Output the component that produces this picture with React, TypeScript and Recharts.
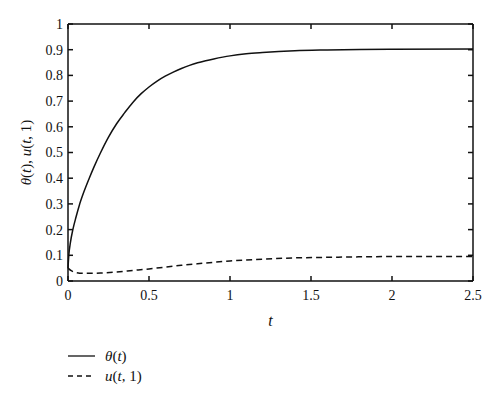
import { Label, Legend, Line, LineChart, XAxis, YAxis } from "recharts";

// t values and readings for theta(t)
const thetaT = [0, 0.005, 0.015, 0.03, 0.05, 0.07, 0.1, 0.13, 0.16, 0.2, 0.25, 0.3, 0.35, 0.4, 0.45, 0.5, 0.55, 0.6, 0.65, 0.7, 0.75, 0.8, 0.85, 0.9, 1.0, 1.1, 1.2, 1.4, 1.6, 1.8, 2.0, 2.5];
const thetaV = [0.05, 0.1, 0.15, 0.2, 0.25, 0.295, 0.35, 0.398, 0.443, 0.498, 0.56, 0.612, 0.655, 0.695, 0.728, 0.755, 0.778, 0.797, 0.813, 0.827, 0.839, 0.849, 0.857, 0.864, 0.876, 0.884, 0.889, 0.896, 0.899, 0.901, 0.902, 0.903];

// t values and readings for u(t, 1)
const uT = [0, 0.02, 0.05, 0.1, 0.2, 0.3, 0.4, 0.5, 0.6, 0.7, 0.8, 0.9, 1.0, 1.2, 1.4, 1.6, 1.8, 2.0, 2.5];
const uV = [0.05, 0.04, 0.033, 0.03, 0.031, 0.035, 0.041, 0.047, 0.054, 0.061, 0.067, 0.073, 0.078, 0.085, 0.09, 0.092, 0.094, 0.095, 0.095];

const xTicks = [0, 0.5, 1, 1.5, 2, 2.5];
const yTicks = [0, 0.1, 0.2, 0.3, 0.4, 0.5, 0.6, 0.7, 0.8, 0.9, 1];

const thetaData = thetaT.map((t, i) => ({ t, theta: thetaV[i] }));
const uData = uT.map((t, i) => ({ t, u: uV[i] }));

const FONT = "Liberation Serif, serif";
const INK = "#111";
const tickStyle = { fontFamily: FONT, fontSize: 14, fill: INK };
const it = { fontStyle: "italic" as const };

const LegendBox = () => (
  <svg width={160} height={50}>
    <line x1={8} x2={35} y1={11} y2={11} stroke={INK} strokeWidth={1.3} />
    <text x={45} y={16} fontFamily={FONT} fontSize={15} fill={INK}>
      <tspan {...it}>θ</tspan>(<tspan {...it}>t</tspan>)
    </text>
    <line x1={8} x2={35} y1={31} y2={31} stroke={INK} strokeWidth={1.3} strokeDasharray="5 4" />
    <text x={45} y={36} fontFamily={FONT} fontSize={15} fill={INK}>
      <tspan {...it}>u</tspan>(<tspan {...it}>t</tspan>, 1)
    </text>
  </svg>
);

export default function App() {
  return (
    <div style={{ position: "absolute", left: 0, top: 0, background: "#fff" }}>
      <LineChart width={500} height={401} margin={{ top: 23, right: 26, bottom: 0, left: 0 }}>
        <XAxis
          xAxisId="bottom"
          dataKey="t"
          type="number"
          domain={[0, 2.5]}
          ticks={xTicks}
          height={120}
          tickSize={-5}
          tickMargin={14}
          tick={tickStyle}
          stroke={INK}
          strokeWidth={1.5}
        >
          <Label
            position="insideTop"
            content={({ viewBox }: any) => (
              <text
                x={viewBox.x + viewBox.width / 2}
                y={viewBox.y + 45}
                textAnchor="middle"
                fontFamily={FONT}
                fontSize={16}
                fontStyle="italic"
                fill={INK}
              >
                t
              </text>
            )}
          />
        </XAxis>
        <XAxis
          xAxisId="top"
          orientation="top"
          dataKey="t"
          type="number"
          domain={[0, 2.5]}
          ticks={xTicks}
          height={1}
          tickSize={-5}
          tickFormatter={() => ""}
          stroke={INK}
          strokeWidth={1.5}
        />
        <YAxis
          yAxisId="left"
          type="number"
          domain={[0, 1]}
          ticks={yTicks}
          width={68}
          tickSize={-5}
          tickMargin={10}
          tick={tickStyle}
          stroke={INK}
          strokeWidth={1.5}
        >
          <Label
            position="center"
            content={({ viewBox }: any) => {
              const cx = viewBox.x + viewBox.width / 2 - 6;
              const cy = viewBox.y + viewBox.height / 2;
              return (
                <text
                  x={cx}
                  y={cy}
                  transform={`rotate(-90 ${cx} ${cy})`}
                  textAnchor="middle"
                  dominantBaseline="middle"
                  fontFamily={FONT}
                  fontSize={15}
                  fill={INK}
                >
                  <tspan {...it}>θ</tspan>(<tspan {...it}>t</tspan>), <tspan {...it}>u</tspan>(
                  <tspan {...it}>t</tspan>, 1)
                </text>
              );
            }}
          />
        </YAxis>
        <YAxis
          yAxisId="right"
          orientation="right"
          type="number"
          domain={[0, 1]}
          ticks={yTicks}
          width={1}
          tickSize={-5}
          tickFormatter={() => ""}
          stroke={INK}
          strokeWidth={1.5}
        />
        <Legend
          layout="vertical"
          align="center"
          verticalAlign="middle"
          wrapperStyle={{ left: 60, top: 345, width: 160, height: 50 }}
          content={() => <LegendBox />}
        />
        {/* unstroked copy so the top/right frame axes get drawn */}
        <Line
          xAxisId="top"
          yAxisId="right"
          data={uData}
          dataKey="u"
          dot={false}
          stroke="none"
          legendType="none"
          isAnimationActive={false}
        />
        <Line
          xAxisId="bottom"
          yAxisId="left"
          data={thetaData}
          dataKey="theta"
          type="monotone"
          dot={false}
          stroke={INK}
          strokeWidth={1.5}
          isAnimationActive={false}
        />
        <Line
          xAxisId="bottom"
          yAxisId="left"
          data={uData}
          dataKey="u"
          type="monotone"
          dot={false}
          stroke={INK}
          strokeWidth={1.5}
          strokeDasharray="6 4"
          isAnimationActive={false}
        />
      </LineChart>
    </div>
  );
}
